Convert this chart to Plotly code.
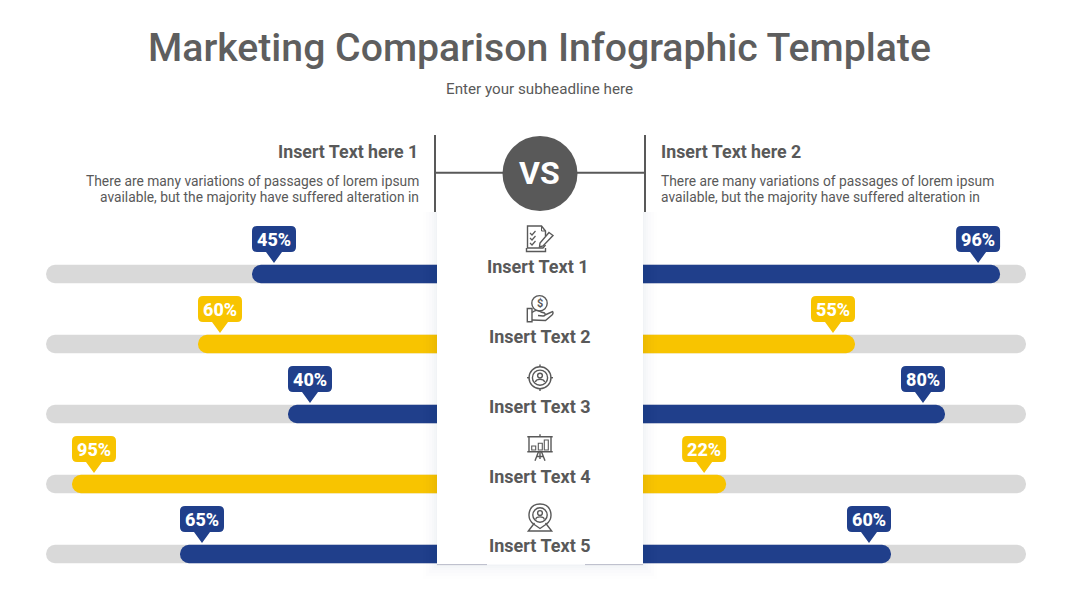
import plotly.graph_objects as go

# ---------- data ----------
rows = [0, 1, 2, 3, 4]
row_labels = ["Insert Text 1", "Insert Text 2", "Insert Text 3", "Insert Text 4", "Insert Text 5"]
left_labels = ["45%", "60%", "40%", "95%", "65%"]
right_labels = ["96%", "55%", "80%", "22%", "60%"]
# drawn lengths (the template's bars do not follow their labels exactly)
left_drawn = [45, 60, 35, 95, 65]
right_drawn = [92.8, 52.5, 77.5, 16.7, 62.5]
left_track = 102.2
right_track = 100
colors = ["#203F8B", "#F8C400", "#203F8B", "#F8C400", "#203F8B"]
track_color = "#D9D9D9"
ink = "#595959"
title = "Marketing Comparison Infographic Template"
subtitle = "Enter your subheadline here"
head_left = "Insert Text here 1"
head_right = "Insert Text here 2"
body = ["There are many variations of passages of lorem ipsum",
        "available, but the majority have suffered alteration in"]

W, H = 1080, 608
FONT = "Roboto"
INNER = 35  # bars run this many units past zero, behind the centre panel


def px(x):
    return x / W


def py(y):
    return 1 - y / H


fig = go.Figure()


def add_bar(vals, cols, xaxis):
    fig.add_trace(go.Bar(y=rows, x=[v + INNER for v in vals], base=[-INNER] * len(vals),
                         orientation="h", width=18.4 / 70, marker=dict(color=cols, line=dict(width=0)),
                         xaxis=xaxis, yaxis="y", showlegend=False, hoverinfo="skip"))


add_bar([left_track] * 5, track_color, "x")
add_bar([right_track] * 5, track_color, "x2")
add_bar(left_drawn, colors, "x")
add_bar(right_drawn, colors, "x2")

shapes = []
ann = []


def text(x, y, s, size, color=ink, anchor="center", bold=False, weight=None):
    ann.append(dict(xref="paper", yref="paper", x=px(x), y=py(y), text=s, showarrow=False,
                    xanchor=anchor, yanchor="middle", align=anchor,
                    font=dict(family=FONT, size=size, color=color, weight=weight or (700 if bold else 400))))


def rect(x0, y0, x1, y1, fill=None, line=None, lw=1.4, opacity=1):
    shapes.append(dict(type="rect", xref="paper", yref="paper", x0=px(x0), x1=px(x1), y0=py(y0), y1=py(y1),
                       fillcolor=fill or "rgba(0,0,0,0)", opacity=opacity,
                       line=dict(color=line or "rgba(0,0,0,0)", width=lw if line else 0)))


def circle(cx, cy, r, fill=None, line=None, lw=1.4):
    shapes.append(dict(type="circle", xref="paper", yref="paper", x0=px(cx - r), x1=px(cx + r),
                       y0=py(cy + r), y1=py(cy - r), fillcolor=fill or "rgba(0,0,0,0)",
                       line=dict(color=line or "rgba(0,0,0,0)", width=lw if line else 0)))


def path(cmds, fill=None, line=ink, lw=1.4):
    out = []
    for c in cmds:
        if isinstance(c, str):
            out.append(c)
        else:
            out.append(f"{px(c[0]):.5f},{py(c[1]):.5f}")
    d = " ".join(out).replace("M ", "M").replace("L ", "L").replace("Q ", "Q").replace("C ", "C")
    shapes.append(dict(type="path", xref="paper", yref="paper", path=d, fillcolor=fill or "rgba(0,0,0,0)",
                       line=dict(color=line, width=lw)))


# ---------- panel ----------
for grow, op in [(14, .005), (11, .006), (8, .008), (5, .01), (3, .012), (1, .014)]:
    rect(437 - grow, 212, 643 + grow, 565 + grow, fill="#203060", opacity=op)
rect(437, 205, 643, 564.5, fill="#FFFFFF")
path(["M", (437, 564.6), "L", (487, 564.6)], line="#B9BBC9", lw=1)
path(["M", (585, 564.6), "L", (643, 564.6)], line="#B9BBC9", lw=1)

# ---------- VS header ----------
path(["M", (435, 135), "L", (435, 212)], lw=2)
path(["M", (645, 135), "L", (645, 212)], lw=2)
path(["M", (435, 172.7), "L", (645, 172.7)], lw=2)
circle(540, 173.5, 37.5, fill=ink)
text(539.5, 172.8, "VS", 32, color="#FFFFFF", bold=True)


# ---------- callouts, anchored to data ----------
def callout(value, row, color, label, axis, side):
    x0, x1 = (0, 44) if side == "l" else (-44, 0)
    tip = (x0 + x1) / 2
    r = 5
    b, t = 22, 48
    d = (f"M{x0+r},{b} L{tip-8},{b} L{tip},11 L{tip+8},{b} L{x1-r},{b} Q{x1},{b} {x1},{b+r} "
         f"L{x1},{t-r} Q{x1},{t} {x1-r},{t} L{x0+r},{t} Q{x0},{t} {x0},{t-r} L{x0},{b+r} Q{x0},{b} {x0+r},{b} Z")
    shapes.append(dict(type="path", xref=axis, yref="y", xsizemode="pixel", ysizemode="pixel",
                       xanchor=value, yanchor=row, path=d, fillcolor=color, line=dict(width=0)))
    ann.append(dict(xref=axis, yref="y", x=value, y=row, text=label, showarrow=False,
                    xshift=tip - 0.5, yshift=35, xanchor="center", yanchor="middle",
                    font=dict(family=FONT, size=18, color="#FFFFFF", weight=800)))


for i in rows:
    callout(left_drawn[i], i, colors[i], left_labels[i], "x", "l")
    callout(right_drawn[i], i, colors[i], right_labels[i], "x2", "r")

# ---------- icons ----------
# 1: checklist + pencil
path(["M", (527.5, 248), "L", (527.5, 226), "L", (541.5, 226), "L", (545.5, 231), "L", (545.5, 236)])
path(["M", (541.5, 226), "L", (541.5, 231), "L", (545.5, 231)], lw=1)
path(["M", (527, 248), "L", (543, 248), "L", (545.5, 245), "M", (526.5, 248), "L", (526.5, 251.5), "L", (545.5, 251.5), "L", (545.5, 248)])
for yy in [233, 238, 243]:
    path(["M", (530, yy), "L", (532, yy + 2), "L", (535.5, yy - 2)], lw=1.2)
path(["M", (549, 232.5), "L", (553, 235.5), "L", (543, 246), "L", (539.5, 247), "L", (540, 243), "Z"])
# 2: coin in hand
circle(539.5, 303.3, 7.7, line=ink)
text(539.5, 303.6, "$", 11, bold=True)
rect(527.3, 308.5, 532, 321.7, line=ink)
path(["M", (532, 312.5), "C", (536, 309.5), (538, 310), (541, 312), "L", (544.5, 313), "C", (546, 314), (545, 316), (543, 316),
      "L", (538, 315.5), "M", (545, 315), "L", (552.5, 311.5), "C", (553.5, 312.5), (553, 314), (552, 315),
      "L", (545.5, 320.5), "L", (532, 320)])
# 3: target with person
circle(540, 377.7, 11, line=ink)
circle(540, 377.7, 7.6, line=ink)
circle(540, 375.6, 2.4, line=ink)
path(["M", (535.5, 382), "C", (536, 378.5), (544, 378.5), (544.5, 382)])
for a, b, c, d in [(540, 364.5, 540, 367), (540, 388.5, 540, 391), (527, 377.7, 529.5, 377.7), (550.5, 377.7, 553, 377.7)]:
    path(["M", (a, b), "L", (c, d)])
# 4: presentation board
path(["M", (527.3, 436.7), "L", (552.7, 436.7), "M", (527.3, 451.7), "L", (552.7, 451.7),
      "M", (529, 436.7), "L", (529, 451.7), "M", (551, 436.7), "L", (551, 451.7), "M", (540, 434.3), "L", (540, 436.7)])
rect(531.7, 446, 535.7, 450, line=ink, lw=1.1)
rect(538.3, 443.3, 542.3, 450, line=ink, lw=1.1)
rect(544.3, 440, 548.3, 450, line=ink, lw=1.1)
path(["M", (538.5, 451.7), "L", (535, 460.7), "M", (541.5, 451.7), "L", (545, 460.7), "M", (540, 451.7), "L", (540, 459),
      "M", (536.5, 456.5), "L", (543.5, 456.5)])
# 5: map pin with person
path(["M", (533.5, 524), "C", (526, 518), (528, 504), (540, 504), "C", (552, 504), (554, 518), (546.5, 524), "L", (540, 528.5), "Z"])
circle(540, 515, 7.2, line=ink)
circle(540, 513, 2.4, line=ink)
path(["M", (535.8, 519.5), "C", (536, 516), (544, 516), (544.2, 519.5)])
path(["M", (534.5, 523), "L", (528.3, 531), "L", (551.7, 531), "L", (545.5, 523)])

# ---------- texts ----------
text(539.5, 47.5, title, 39.2, weight=500, color="#5E5E5E")
text(539.7, 88.5, subtitle, 15.2)
text(419.5, 151.5, head_left, 17.8, anchor="right", bold=True)
text(659, 151.5, head_right, 17.8, anchor="left", bold=True)
for k, yy in enumerate([181, 197]):
    text(421, yy, body[k], 13.8, anchor="right")
    text(659, yy, body[k], 13.8, anchor="left")
for xx, yy, s in zip([537.5, 540, 540, 540, 540], [266.5, 336.5, 406.5, 476.5, 545.5], row_labels):
    text(xx, yy, s, 18, bold=True)

# ---------- axes ----------
fig.update_layout(
    width=W, height=H, autosize=False, margin=dict(l=0, r=0, t=0, b=0),
    paper_bgcolor="#FFFFFF", plot_bgcolor="#FFFFFF", barmode="overlay", barcornerradius=9,
    showlegend=False, shapes=shapes, annotations=ann,
    xaxis=dict(domain=[0, 0.5], range=[115, -INNER], visible=False, fixedrange=True),
    xaxis2=dict(domain=[0.5, 1], range=[-INNER, 115], visible=False, fixedrange=True),
    yaxis=dict(domain=[0, 1], range=[(H - 274) / 70, -274 / 70], visible=False, fixedrange=True),
)
fig.write_html("out.html", config=dict(displayModeBar=False),
               post_script="document.body.style.margin='0';document.body.style.overflow='hidden';")
